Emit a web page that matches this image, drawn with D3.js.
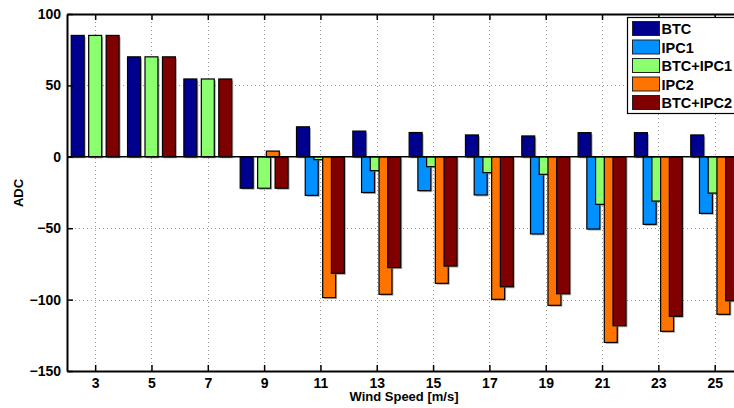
<!DOCTYPE html>
<html>
<head>
<meta charset="utf-8">
<script src="https://cdn.jsdelivr.net/npm/d3@7"></script>
<style>
  body { margin: 0; background: #fff; }
  svg { display: block; overflow: hidden; }
  text { font-family: "Liberation Sans", Arial, sans-serif; font-weight: bold; fill: #000; }
</style>
</head>
<body>
<div class="canvas"></div>
<script>
// wind speeds (groups) and ADC values for each controller
var speeds = [3, 5, 7, 9, 11, 13, 15, 17, 19, 21, 23, 25];
var btc     = [85, 70, 54.5, -22, 21, 18, 17, 15.3, 14.6, 16.9, 16.9, 15.3];
var ipc1    = [0, 0, 0, 0, -27, -25, -23.7, -26.7, -54, -50.6, -47.3, -39.6];
var btcIpc1 = [85, 70, 54.5, -22, -2, -9.7, -6.9, -11.1, -12.3, -33.3, -31, -25.4];
var ipc2    = [0, 0, 0, 4, -98.6, -96.3, -88.6, -99.8, -104, -130, -122.2, -110.3];
var btcIpc2 = [85, 70, 54.5, -22, -81.6, -77.6, -76.5, -91, -95.9, -118.3, -111.7, -100.8];
var seriesNames = ['BTC', 'IPC1', 'BTC+IPC1', 'IPC2', 'BTC+IPC2'];
var seriesColors = ['#00008f', '#0090ff', '#8cff6e', '#ff7300', '#800000'];
var yTicks = [100, 50, 0, -50, -100, -150];

var width = 734;
var height = 408;
// note: "top" clashes with window.top, so use plot* names
var plotL = 67, plotT = 14, plotB = 371, plotR = 771;

var series = [btc, ipc1, btcIpc1, ipc2, btcIpc2];

var svg = d3.select('.canvas')
  .append('svg')
  .attr('width', width)
  .attr('height', height);

var xscale = d3.scaleLinear().domain([2, 27]).range([plotL, plotR]);
var yscale = d3.scaleLinear().domain([-150, 100]).range([plotB, plotT]);

// grid lines (dotted)
var grid = svg.append('g');
grid.selectAll('line.gx')
  .data(speeds)
  .enter().append('line')
  .attr('x1', function(d) { return Math.round(xscale(d)) + 0.5; })
  .attr('x2', function(d) { return Math.round(xscale(d)) + 0.5; })
  .attr('y1', plotT).attr('y2', plotB)
  .attr('stroke', '#999').attr('stroke-width', 1).attr('stroke-dasharray', '1,3');
grid.selectAll('line.gy')
  .data([50, -50, -100])
  .enter().append('line')
  .attr('x1', plotL).attr('x2', plotR)
  .attr('y1', function(d) { return Math.round(yscale(d)) + 0.5; })
  .attr('y2', function(d) { return Math.round(yscale(d)) + 0.5; })
  .attr('stroke', '#999').attr('stroke-width', 1).attr('stroke-dasharray', '1,3');

// bars
var slot = 0.31, barW = 0.46;
var bars = svg.append('g');
series.forEach(function(vals, i) {
  var data = speeds.map(function(s, j) { return { s: s, v: vals[j] }; })
    .filter(function(d) { return d.v !== 0; });
  var g = bars.append('g');
  function bx(d) { return xscale(d.s + (i - 2) * slot - barW / 2); }
  function by(d) { return Math.min(yscale(d.v), yscale(0)); }
  function bh(d) { return Math.abs(yscale(d.v) - yscale(0)); }
  var bw = xscale(barW) - xscale(0);
  // soft shadow
  g.selectAll('rect.sh').data(data).enter().append('rect')
    .attr('x', function(d) { return bx(d) + 1.5; })
    .attr('y', function(d) { return by(d) + 1.5; })
    .attr('width', bw).attr('height', bh)
    .attr('fill', '#777').attr('opacity', 0.6);
  g.selectAll('rect.bar').data(data).enter().append('rect')
    .attr('x', bx).attr('y', by)
    .attr('width', bw).attr('height', bh)
    .attr('fill', seriesColors[i])
    .attr('stroke', '#000').attr('stroke-width', 1.2);
});

// zero baseline
svg.append('line')
  .attr('x1', plotL).attr('x2', plotR)
  .attr('y1', yscale(0)).attr('y2', yscale(0))
  .attr('stroke', '#000').attr('stroke-width', 1.5);

// axes box with inward ticks
var xAxisB = d3.axisBottom(xscale).tickValues(speeds).tickSizeInner(-6).tickSizeOuter(0).tickPadding(7);
var xAxisT = d3.axisTop(xscale).tickValues(speeds).tickSizeInner(-6).tickSizeOuter(0).tickFormat('');
var yAxisL = d3.axisLeft(yscale).tickValues(yTicks).tickSizeInner(-6).tickSizeOuter(0).tickPadding(6)
  .tickFormat(function(d) { return d < 0 ? '\u2212' + Math.abs(d) : d; });

svg.append('g').attr('transform', 'translate(0,' + plotB + ')').call(xAxisB);
svg.append('g').attr('transform', 'translate(0,' + plotT + ')').call(xAxisT);
svg.append('g').attr('transform', 'translate(' + plotL + ',0)').call(yAxisL);

svg.selectAll('.domain').attr('stroke', '#000').attr('stroke-width', 2);
svg.selectAll('.tick line').attr('stroke', '#000').attr('stroke-width', 1.5);
svg.selectAll('.tick text')
  .attr('font-family', '"Liberation Sans", Arial, sans-serif')
  .attr('font-weight', 'bold').attr('font-size', 14).attr('fill', '#000');

// axis labels
svg.append('text')
  .attr('x', 404).attr('y', 401)
  .attr('text-anchor', 'middle').attr('font-size', 13)
  .text('Wind Speed [m/s]');
svg.append('text')
  .attr('transform', 'translate(23,193) rotate(-90)')
  .attr('text-anchor', 'middle').attr('font-size', 13)
  .text('ADC');

// legend
var legend = svg.append('g').attr('transform', 'translate(627.5,17.5)');
legend.append('rect')
  .attr('width', 120).attr('height', 96)
  .attr('fill', '#fff').attr('stroke', '#000').attr('stroke-width', 1.2);
seriesNames.forEach(function(name, i) {
  var row = legend.append('g').attr('transform', 'translate(5,' + (4 + i * 18.5) + ')');
  row.append('rect')
    .attr('width', 27).attr('height', 14)
    .attr('fill', seriesColors[i]).attr('stroke', '#222').attr('stroke-width', 1);
  row.append('text')
    .attr('x', 29).attr('y', 12.5)
    .attr('font-size', 14.5)
    .text(name);
});
</script>
</body>
</html>
